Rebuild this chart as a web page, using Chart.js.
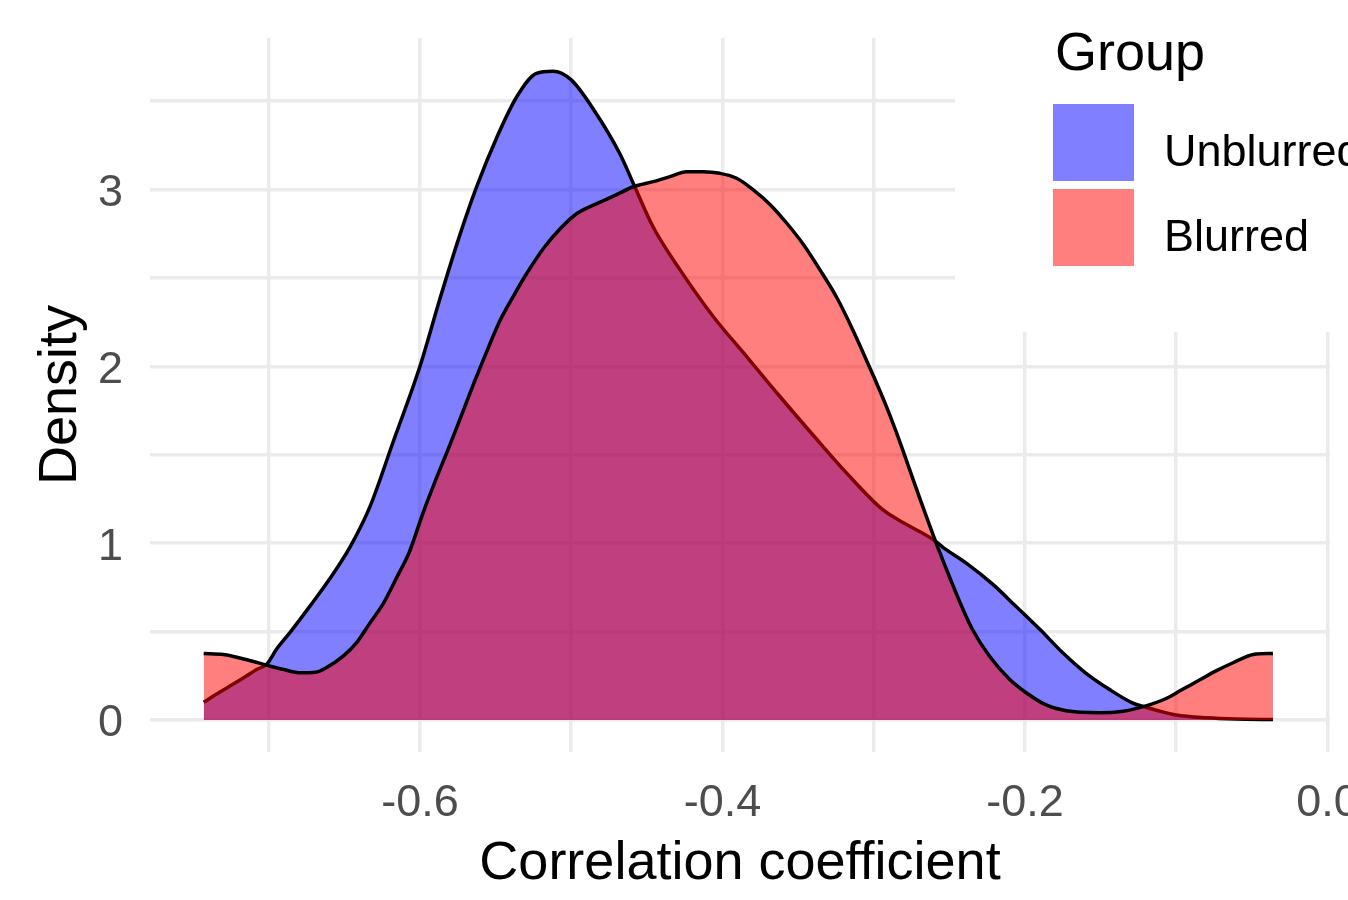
<!DOCTYPE html>
<html>
<head>
<meta charset="utf-8">
<title>Density of correlation coefficients</title>
<script src="https://cdn.jsdelivr.net/npm/chart.js@4.4.1/dist/chart.umd.min.js"></script>
<style>
  html, body { margin: 0; padding: 0; background: #fff; overflow: hidden; }
  #wrap { position: relative; width: 1348px; height: 900px; }
</style>
</head>
<body>
<div id="wrap"><canvas id="chart1"></canvas></div>
<script>
// Density estimates, per group
const unblurredX = [-0.743, -0.735, -0.724, -0.715, -0.708, -0.701, -0.695, -0.686, -0.673, -0.660,
    -0.646, -0.633, -0.618, -0.600, -0.587, -0.574, -0.5625, -0.549, -0.536, -0.523,
    -0.512, -0.500, -0.485, -0.468, -0.459, -0.446, -0.428, -0.406, -0.384, -0.362,
    -0.340, -0.318, -0.294, -0.280, -0.2606, -0.254, -0.239, -0.221, -0.206, -0.190,
    -0.175, -0.160, -0.144, -0.129, -0.120, -0.113, -0.100, -0.080, -0.060, -0.036];
const unblurredY = [0.10, 0.144, 0.20, 0.247, 0.285, 0.318, 0.398, 0.494, 0.641, 0.794,
    0.982, 1.208, 1.566, 2.00, 2.376, 2.733, 3.016, 3.298, 3.524, 3.656,
    3.668, 3.619, 3.449, 3.204, 3.035, 2.79, 2.545, 2.28, 2.055, 1.829,
    1.61, 1.397, 1.189, 1.114, 1.02, 0.975, 0.888, 0.765, 0.643, 0.511,
    0.38, 0.267, 0.172, 0.097, 0.072, 0.055, 0.028, 0.012, 0.005, 0.003];

const blurredX = [-0.743, -0.730, -0.715, -0.699, -0.690, -0.679, -0.669, -0.662, -0.651, -0.642,
    -0.633, -0.624, -0.615, -0.607, -0.598, -0.589, -0.580, -0.5736, -0.565, -0.556,
    -0.547, -0.538, -0.529, -0.518, -0.507, -0.496, -0.483, -0.470, -0.459, -0.4457,
    -0.4347, -0.4237, -0.4127, -0.4017, -0.3906, -0.3796, -0.3686, -0.3576, -0.3466, -0.3355,
    -0.3245, -0.3135, -0.3025, -0.2915, -0.2826, -0.276, -0.2694, -0.2628, -0.256, -0.249,
    -0.2412, -0.2346, -0.2234, -0.2102, -0.1992, -0.186, -0.1727, -0.151, -0.135, -0.120,
    -0.107, -0.096, -0.084, -0.074, -0.062, -0.049, -0.036];
const blurredY = [0.376, 0.37, 0.342, 0.304, 0.285, 0.267, 0.27, 0.295, 0.36, 0.436,
    0.549, 0.662, 0.812, 0.95, 1.17, 1.37, 1.56, 1.70, 1.89, 2.08,
    2.26, 2.40, 2.53, 2.67, 2.78, 2.865, 2.92, 2.97, 3.015, 3.044,
    3.072, 3.10, 3.10, 3.091, 3.063, 2.997, 2.915, 2.81, 2.69, 2.545,
    2.39, 2.20, 1.99, 1.77, 1.57, 1.41, 1.25, 1.095, 0.94, 0.79,
    0.63, 0.51, 0.36, 0.23, 0.154, 0.085, 0.052, 0.041, 0.05, 0.08,
    0.12, 0.172, 0.229, 0.276, 0.325, 0.37, 0.376];

const groupNames = ['Unblurred', 'Blurred'];
const groupColors = ['rgba(0, 0, 255, 0.5)', 'rgba(255, 0, 0, 0.5)'];
const legendTitle = 'Group';

const xGrid = [-0.7, -0.6, -0.5, -0.4, -0.3, -0.2, -0.1, 0.0];
const xTickLabels = ['', '-0.6', '', '-0.4', '', '-0.2', '', '0.0'];
const yGrid = [0, 0.5, 1, 1.5, 2, 2.5, 3, 3.5];
const yTickLabels = ['0', '', '1', '', '2', '', '3', ''];

const FONT = '"Liberation Sans", Arial, sans-serif';

function toPoints(xs, ys) {
    return xs.map((x, i) => ({ x: x, y: ys[i] }));
}

// ggplot-style legend drawn on a white box over the top right of the panel
const groupLegend = {
    id: 'groupLegend',
    afterDraw(chart) {
        const ctx = chart.ctx;
        ctx.save();
        ctx.fillStyle = '#ffffff';
        ctx.fillRect(955, 0, chart.width - 955, 332);
        ctx.fillStyle = '#000000';
        ctx.textBaseline = 'alphabetic';
        ctx.textAlign = 'left';
        ctx.font = '54px ' + FONT;
        ctx.fillText(legendTitle, 1055, 70);
        ctx.font = '45px ' + FONT;
        chart.data.datasets.forEach((ds, i) => {
            const top = 104 + i * 85;
            ctx.fillStyle = ds.backgroundColor;
            ctx.fillRect(1053, top, 81, 77);
            ctx.fillStyle = '#000000';
            ctx.fillText(ds.label, 1164, top + 62);
        });
        ctx.restore();
    }
};

function initializeChart() {
    const data = {
        datasets: [{
            label: groupNames[0],
            data: toPoints(unblurredX, unblurredY),
            backgroundColor: groupColors[0],
            borderColor: '#000000',
            borderWidth: 3.5,
            fill: 'origin',
            order: 2
        }, {
            label: groupNames[1],
            data: toPoints(blurredX, blurredY),
            backgroundColor: groupColors[1],
            borderColor: '#000000',
            borderWidth: 3.5,
            fill: 'origin',
            order: 1
        }]
    };

    const gridStyle = {
        color: '#EBEBEB',
        lineWidth: 3.5,
        drawTicks: false
    };

    const options = {
        responsive: true,
        maintainAspectRatio: false,
        animation: false,
        layout: { padding: { top: 38, right: 18, left: 0, bottom: 0 } },
        elements: {
            point: { radius: 0, hoverRadius: 0 },
            line: { cubicInterpolationMode: 'monotone', borderJoinStyle: 'round' }
        },
        plugins: {
            legend: { display: false },
            tooltip: { enabled: false }
        },
        scales: {
            x: {
                type: 'linear',
                min: -0.7785,
                max: 0.0017,
                border: { display: false },
                grid: gridStyle,
                afterBuildTicks: scale => { scale.ticks = xGrid.map(v => ({ value: v })); },
                afterFit: scale => {
                    scale.height = 148;
                    scale.paddingLeft = 0; scale.paddingRight = 0;
                },
                ticks: {
                    autoSkip: false,
                    maxRotation: 0,
                    padding: 25,
                    color: '#4D4D4D',
                    font: { family: FONT, size: 45 },
                    callback: (v, i) => xTickLabels[i]
                },
                title: {
                    display: true,
                    text: 'Correlation coefficient',
                    color: '#000000',
                    font: { family: FONT, size: 54 },
                    padding: { top: 0, bottom: 3 }
                }
            },
            y: {
                type: 'linear',
                min: -0.181,
                max: 3.856,
                border: { display: false },
                grid: gridStyle,
                afterBuildTicks: scale => { scale.ticks = yGrid.map(v => ({ value: v })); },
                afterFit: scale => {
                    scale.width = 150;
                    scale.paddingTop = 0; scale.paddingBottom = 0;
                },
                ticks: {
                    autoSkip: false,
                    padding: 27,
                    labelOffset: 4,
                    color: '#4D4D4D',
                    font: { family: FONT, size: 45 },
                    callback: (v, i) => yTickLabels[i]
                },
                title: {
                    display: true,
                    text: 'Density',
                    color: '#000000',
                    font: { family: FONT, size: 54 },
                    padding: { top: 29, bottom: 0 }
                }
            }
        }
    };

    const ctx1 = document.getElementById('chart1').getContext('2d');
    new Chart(ctx1, { type: 'line', data: data, options: options, plugins: [groupLegend] });
}

window.onload = initializeChart;
</script>
</body>
</html>
